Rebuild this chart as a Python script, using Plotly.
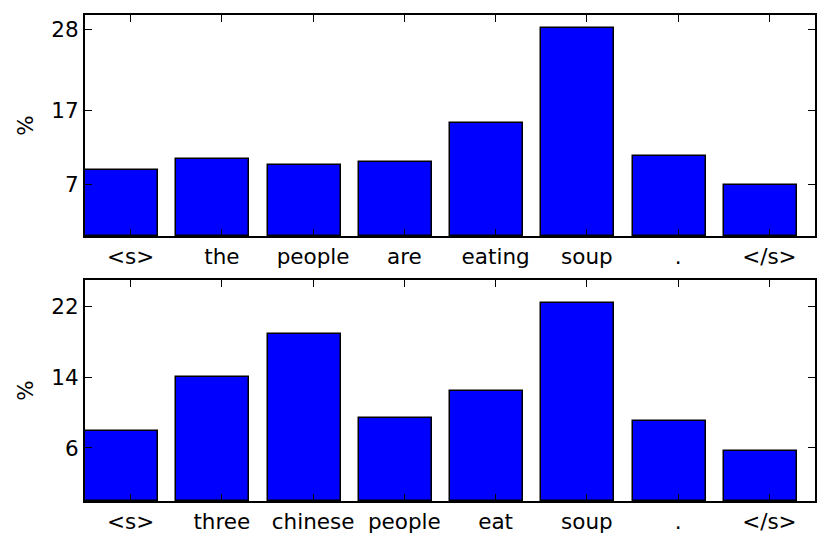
import plotly.graph_objects as go
from plotly.subplots import make_subplots

# attention weights (%) per token
top_tokens = ["<s>", "the", "people", "are", "eating", "soup", ".", "</s>"]
top_values = [9.0, 10.4, 9.6, 10.1, 15.4, 28.2, 10.9, 6.9]
top_ticks = [7, 17, 28]

bottom_tokens = ["<s>", "three", "chinese", "people", "eat", "soup", ".", "</s>"]
bottom_values = [7.9, 14.0, 18.9, 9.35, 12.4, 22.4, 9.1, 5.7]
bottom_ticks = [6, 14, 22]

BAR_W = 0.8
FONT = "DejaVu Sans"
FSIZE = 21.5


def escape(tok):
    # plotly reads "<s>" as markup, so escape the angle brackets
    return tok.replace("<", "&lt;").replace(">", "&gt;")


fig = make_subplots(rows=2, cols=1, vertical_spacing=0.0907)

panels = [
    (top_tokens, top_values, top_ticks, 30),
    (bottom_tokens, bottom_values, bottom_ticks, 25),
]

for row, (tokens, values, yticks, ymax) in enumerate(panels, start=1):
    idx = list(range(len(tokens)))
    # matplotlib-style edge aligned bars: bar starts at i, tick sits at i + 0.5
    fig.add_trace(go.Bar(
        x=[i + BAR_W / 2 for i in idx], y=values, width=BAR_W,
        marker=dict(color="#0000ff", line=dict(color="black", width=1.5)),
        showlegend=False,
    ), row=row, col=1)
    fig.update_xaxes(
        range=[0, len(tokens)],
        tickvals=[i + 0.5 for i in idx], ticktext=[escape(t) for t in tokens],
        tickangle=0, automargin=False,
        ticks="inside", ticklen=7, tickwidth=1, tickcolor="black",
        showline=True, linecolor="black", linewidth=2, mirror="ticks",
        showgrid=False, zeroline=False,
        tickfont=dict(family=FONT, size=FSIZE, color="black"),
        row=row, col=1,
    )
    fig.update_yaxes(
        range=[0, ymax], tickvals=yticks, automargin=False,
        ticks="inside", ticklen=7, tickwidth=1, tickcolor="black",
        showline=True, linecolor="black", linewidth=2, mirror="ticks",
        showgrid=False, zeroline=False,
        tickfont=dict(family=FONT, size=FSIZE, color="black"),
        title=dict(text="%", font=dict(family=FONT, size=FSIZE, color="black"), standoff=12),
        row=row, col=1,
    )

fig.update_layout(
    width=830, height=548,
    margin=dict(l=85, r=15, t=15, b=47),
    paper_bgcolor="white", plot_bgcolor="white",
    bargap=0,
)

# drop the default page margin so the figure sits at the window corner
fig.write_html("out.html", config={"displayModeBar": False},
               post_script="document.body.style.margin='0';")
